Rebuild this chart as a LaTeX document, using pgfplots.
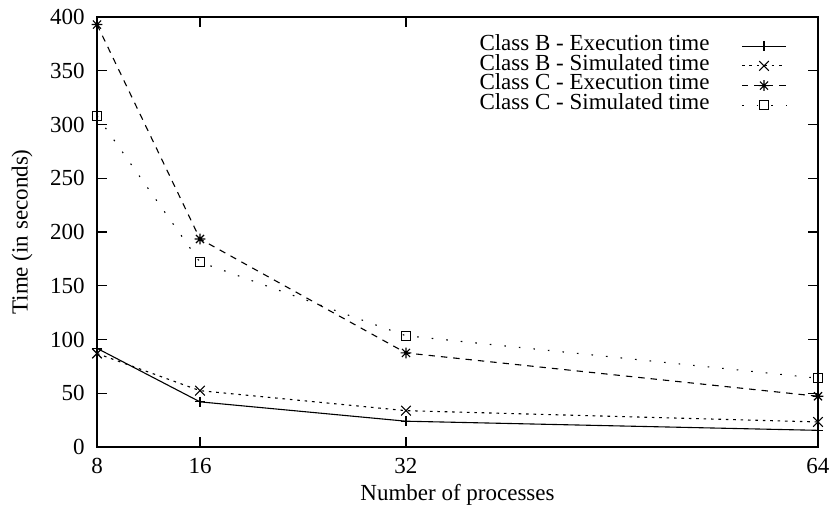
\documentclass[border=0pt]{standalone}
\usepackage{fontspec}
\setmainfont{Liberation Serif}
\usepackage{pgfplots}
\pgfplotsset{compat=1.18}
\pgfdeclareplotmark{plusx}{%
  \pgfpathmoveto{\pgfqpoint{-\pgfplotmarksize}{0pt}}%
  \pgfpathlineto{\pgfqpoint{\pgfplotmarksize}{0pt}}%
  \pgfpathmoveto{\pgfqpoint{0pt}{-\pgfplotmarksize}}%
  \pgfpathlineto{\pgfqpoint{0pt}{\pgfplotmarksize}}%
  \pgfpathmoveto{\pgfqpoint{-0.75\pgfplotmarksize}{-0.75\pgfplotmarksize}}%
  \pgfpathlineto{\pgfqpoint{0.75\pgfplotmarksize}{0.75\pgfplotmarksize}}%
  \pgfpathmoveto{\pgfqpoint{-0.75\pgfplotmarksize}{0.75\pgfplotmarksize}}%
  \pgfpathlineto{\pgfqpoint{0.75\pgfplotmarksize}{-0.75\pgfplotmarksize}}%
  \pgfusepathqstroke}
\begin{document}
\fontsize{11.5}{13}\selectfont
\begin{tikzpicture}
\begin{axis}[
  scale only axis,
  width=360.5pt, height=215pt,
  xmin=8, xmax=64, ymin=0, ymax=400,
  xtick={8,16,32,64},
  ytick={0,50,...,400},
  tick align=inside,
  major tick length=5pt,
  axis line style={line width=0.8pt},
  tick style={line width=0.6pt, black},
  /pgf/number format/assume math mode=true,
  xticklabel style={anchor=base, yshift=-13pt, inner sep=0pt},
  yticklabel style={anchor=east, inner sep=0pt, xshift=-6pt},
  xlabel={Number of processes},
  ylabel={Time (in seconds)},
  every axis x label/.style={at={(axis description cs:0.5,0)}, anchor=base, yshift=-26.5pt},
  every axis y label/.style={at={(axis description cs:0,0.5)}, anchor=center, rotate=90, yshift=37.5pt},
  legend cell align=left,
  legend plot pos=right,
  legend image code/.code={\draw[mark repeat=2,mark phase=2,#1] plot coordinates {(0pt,0pt) (11pt,0pt) (22pt,0pt)};},
  legend style={draw=none, fill=none, at={(axis description cs:0.957,0.956)}, anchor=north east,
    inner sep=0pt, nodes={inner sep=0pt, text height=7pt, text depth=2.85pt}, row sep=0pt, column sep=16pt},
  every axis plot/.append style={line width=0.55pt, black},
]
\addplot[mark=+, mark size=2.6pt, mark options={solid}] coordinates {(8,91.8) (16,42) (32,24) (64,15.5)};
\addlegendentry{Class B - Execution time}
\addplot[mark=x, mark size=3.4pt, dash pattern=on 1.3pt off 2.4pt, mark options={solid}] coordinates {(8,87) (16,52.4) (32,33.8) (64,23.3)};
\addlegendentry{Class B - Simulated time}
\addplot[mark=plusx, mark size=2.7pt, dash pattern=on 3.2pt off 3pt, mark options={solid}] coordinates {(8,393) (16,193.5) (32,87.5) (64,47.2)};
\addlegendentry{Class C - Execution time}
\addplot[mark=square, mark size=2.3pt, dash pattern=on 0.8pt off 6.5pt, mark options={solid}] coordinates {(8,308) (16,172) (32,103.5) (64,64)};
\addlegendentry{Class C - Simulated time}
\end{axis}
\pgfresetboundingbox
\useasboundingbox (-48.5pt,-28.5pt) rectangle (368.5pt,223.5pt);
\end{tikzpicture}
\end{document}
